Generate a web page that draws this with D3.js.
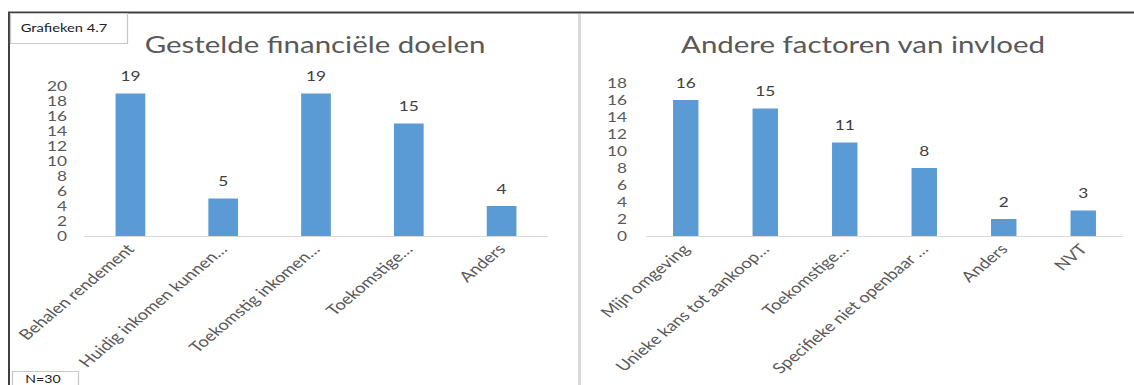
<!DOCTYPE html>
<html>
<head>
<meta charset="utf-8">
<script src="https://cdn.jsdelivr.net/npm/d3@7"></script>
<style>
  html, body { margin: 0; padding: 0; background: #fff; }
  svg { display: block; }
  text { font-family: Lato, "Open Sans", sans-serif; }
</style>
</head>
<body>
<svg id="chart"></svg>
<script>
// ---------- data ----------
const leftTitle = "Gestelde financiële doelen";
const leftCategories = ["Behalen rendement", "Huidig inkomen kunnen…", "Toekomstig inkomen…", "Toekomstige…", "Anders"];
const leftValues = [19, 5, 19, 15, 4];
const leftTicks = [0, 2, 4, 6, 8, 10, 12, 14, 16, 18, 20];

const rightTitle = "Andere factoren van invloed";
const rightCategories = ["Mijn omgeving", "Unieke kans tot aankoop…", "Toekomstige…", "Specifieke niet openbaar …", "Anders", "NVT"];
const rightValues = [16, 15, 11, 8, 2, 3];
const rightTicks = [0, 2, 4, 6, 8, 10, 12, 14, 16, 18];

const captionTop = "Grafieken 4.7";
const captionBottom = "N=30";

// ---------- layout (screen px; the picture is stretched horizontally) ----------
const S = 1.28;                 // horizontal stretch of the reference picture
const WIDTH = 1134, HEIGHT = 385;
const DW = WIDTH / S;           // design width
const sx = v => v / S;

const svg = d3.select("#chart")
  .attr("width", WIDTH).attr("height", HEIGHT)
  .attr("viewBox", `0 0 ${DW} ${HEIGHT}`)
  .attr("preserveAspectRatio", "none");

const TEXT = "#595959";
const BAR = "#5B9BD5";
const GRID = "#D9D9D9";

// frame
svg.append("line").attr("x1", sx(8)).attr("x2", DW).attr("y1", 12.5).attr("y2", 12.5)
  .attr("stroke", "#3f3f3f").attr("stroke-width", 2);
svg.append("line").attr("x1", sx(9)).attr("x2", sx(9)).attr("y1", 12).attr("y2", HEIGHT)
  .attr("stroke", "#3f3f3f").attr("stroke-width", 2 / S);
// separator between the two charts
svg.append("line").attr("x1", sx(579.5)).attr("x2", sx(579.5)).attr("y1", 14).attr("y2", HEIGHT)
  .attr("stroke", GRID).attr("stroke-width", 3 / S);

// caption boxes
svg.append("rect").attr("x", sx(10.5)).attr("y", 13.5).attr("width", sx(117)).attr("height", 30)
  .attr("fill", "#fff").attr("stroke", "#c8c8c8").attr("stroke-width", 1);
svg.append("text").attr("x", sx(64)).attr("y", 32).attr("text-anchor", "middle")
  .attr("font-size", 11.5).attr("fill", "#222").text(captionTop);
svg.append("rect").attr("x", sx(12.5)).attr("y", 371.5).attr("width", sx(66)).attr("height", 30)
  .attr("fill", "#fff").attr("stroke", "#c8c8c8").attr("stroke-width", 1);
svg.append("text").attr("x", sx(43)).attr("y", 383.5).attr("text-anchor", "middle")
  .attr("font-size", 11).attr("fill", "#222").text(captionBottom);

function drawChart(cfg) {
  const g = svg.append("g");
  const x = d3.scaleBand().domain(cfg.categories)
    .range([sx(cfg.axisX0), sx(cfg.axisX1)])
    .paddingInner(0.68).paddingOuter(0.34);
  const y = d3.scaleLinear().domain([0, cfg.yMax]).range([cfg.y0, cfg.yTop]);

  // title
  g.append("text").attr("x", sx(cfg.titleX)).attr("y", 53)
    .attr("text-anchor", "middle").attr("font-size", 23).attr("fill", TEXT)
    .text(cfg.title);

  // y axis labels
  const ya = g.append("g").attr("transform", `translate(${sx(cfg.tickRight)},0)`)
    .call(d3.axisLeft(y).tickValues(cfg.ticks).tickSize(0).tickPadding(0).tickFormat(d3.format("d")));
  ya.select(".domain").remove();
  ya.selectAll("text").attr("font-size", 13.5).attr("fill", TEXT)
    .attr("font-family", "Lato, sans-serif");

  // bars
  g.selectAll("rect.bar").data(cfg.values).join("rect").attr("class", "bar")
    .attr("x", (d, i) => x(cfg.categories[i]))
    .attr("width", x.bandwidth())
    .attr("y", d => y(d))
    .attr("height", d => y(0) - y(d))
    .attr("fill", BAR);

  // x axis
  const xa = g.append("g").attr("transform", `translate(0,${cfg.y0})`)
    .call(d3.axisBottom(x).tickSize(0).tickPadding(0));
  xa.select(".domain").attr("stroke", GRID).attr("stroke-width", 1.2)
    .attr("d", `M${sx(cfg.axisX0)},0.5H${sx(cfg.axisX1)}`);
  xa.selectAll(".tick text")
    .attr("font-size", 14.5).attr("fill", TEXT).attr("font-family", "Lato, sans-serif")
    .attr("text-anchor", "end")
    .attr("x", 0).attr("y", 0).attr("dy", 0)
    .attr("transform", `translate(${sx(5)},14) rotate(-47)`);

  // value labels
  g.selectAll("text.val").data(cfg.values).join("text").attr("class", "val")
    .attr("x", (d, i) => x(cfg.categories[i]) + x.bandwidth() / 2)
    .attr("y", d => y(d) - 12)
    .attr("text-anchor", "middle").attr("font-size", 13.5).attr("fill", "#404040")
    .text(d => d);
}

drawChart({
  title: leftTitle, categories: leftCategories, values: leftValues, ticks: leftTicks,
  axisX0: 84, axisX1: 548, y0: 236, yTop: 86, yMax: 20, tickRight: 67, titleX: 315
});
drawChart({
  title: rightTitle, categories: rightCategories, values: rightValues, ticks: rightTicks,
  axisX0: 646, axisX1: 1123, y0: 236, yTop: 83, yMax: 18, tickRight: 627, titleX: 863
});
</script>
</body>
</html>
